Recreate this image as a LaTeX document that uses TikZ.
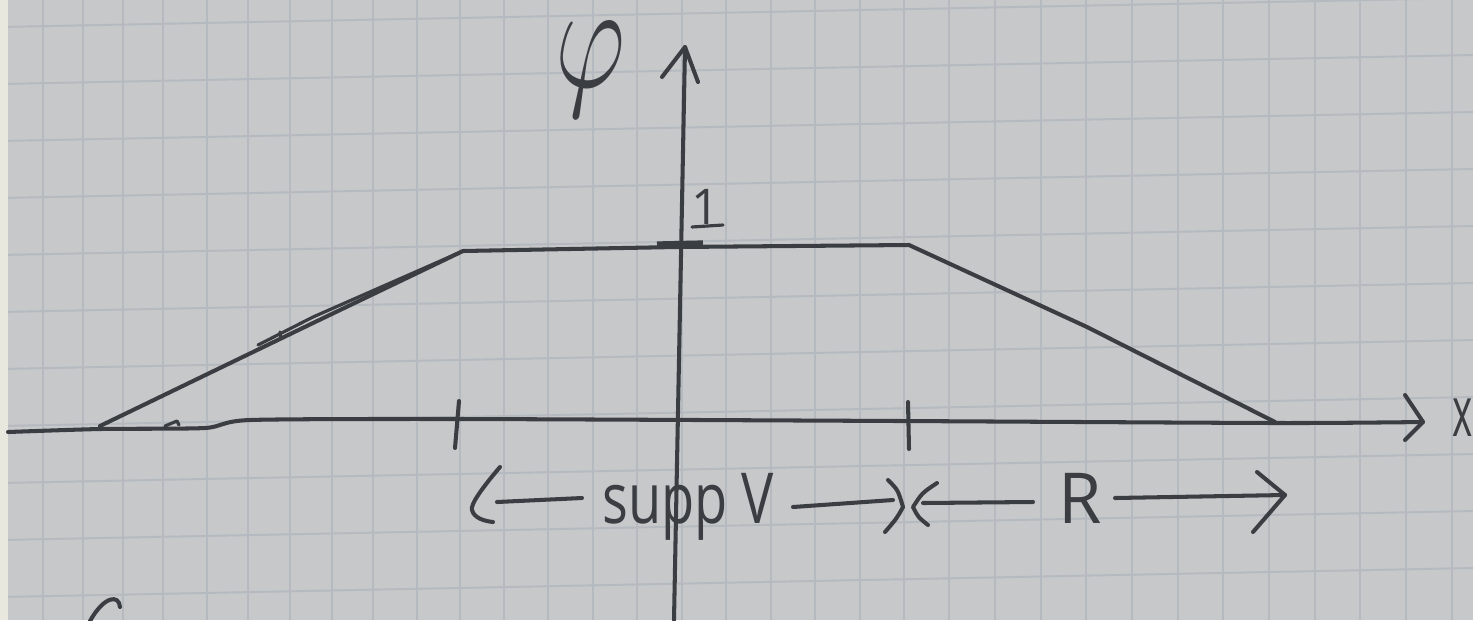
\documentclass[tikz,border=0pt]{standalone}
\usepackage{fontspec}
\setsansfont{Open Sans}
\usepackage{graphicx}
\definecolor{paper}{RGB}{198,200,201}
\definecolor{gridc}{RGB}{180,186,191}
\definecolor{ink}{RGB}{58,61,66}
\definecolor{edgec}{RGB}{232,232,222}
\begin{document}
\begin{tikzpicture}[x=0.02cm,y=-0.02cm,
  inkline/.style={draw=ink,line width=2.3pt,line cap=round,line join=round},
  thinink/.style={draw=ink,line width=1.8pt,line cap=round,line join=round},
  gridline/.style={draw=gridc,line width=1.1pt},
  lbl/.style={text=ink,font=\sffamily\fontsize{40}{40}\selectfont,inner sep=0pt}]
\useasboundingbox (0,0) rectangle (1473,620);
\clip (0,0) rectangle (1473,620);
% paper and grid
\fill[paper] (0,0) rectangle (1473,620);
\foreach \gx in {43,83,123,163,207,248,290,332,373,417,460,504,548,593,637,682,726,771,815,860,904,949,995,1041,1086,1132,1178,1223,1269,1315,1360,1406,1452}
  \draw[gridline] (\gx,0) -- (\gx,620);
\foreach \k in {0,...,11}
  \draw[gridline] (0,{27+57*\k}) -- (1473,{27+57*\k-29});
\fill[edgec] (0,0) rectangle (8,620);

% key points
\coordinate (xa0) at (8,432);
\coordinate (xa1) at (100,429);
\coordinate (xa2) at (205,428);
\coordinate (xa3) at (250,420);
\coordinate (xa4) at (460,419);
\coordinate (xa5) at (900,421);
\coordinate (xa6) at (1280,423);
\coordinate (xtip) at (1423,422);
\coordinate (xhu) at (1405,395);
\coordinate (xhl) at (1405,440);

\coordinate (ybot) at (674,620);
\coordinate (ytip) at (685,47);
\coordinate (yhl) at (662,77);
\coordinate (yhr) at (698,82);

\coordinate (s0) at (100,426);
\coordinate (s1) at (313,323);
\coordinate (p0) at (463,251);
\coordinate (p1) at (676,247);
\coordinate (p2) at (909,245);
\coordinate (r1) at (1087,327);
\coordinate (r2) at (1275,422);

\coordinate (d0) at (258,345);
\coordinate (d1) at (313,317);
\coordinate (d2) at (413,273);

% axes
\draw[inkline] plot[smooth,tension=0.4] coordinates {(xa0) (xa1) (xa2) (xa3) (xa4) (xa5) (xa6) (xtip)};
\draw[inkline] (xhu) -- (xtip) -- (xhl);
\draw[inkline] (ybot) -- (ytip);
\draw[inkline] (yhl) -- (ytip) -- (yhr);

% small spur on x axis
\coordinate (sp0) at (165,426);
\coordinate (sp1) at (177,421);
\coordinate (sp2) at (179,425);
\draw[thinink] (sp0) -- (sp1) -- (sp2);

% trapezoid
\draw[inkline] (s0) -- (s1) -- (p0) -- (p1) -- (p2) -- (r1) -- (r2);
\draw[thinink] (d0) -- (d1) -- (d2) -- (p0);
\coordinate (dt0) at (280,332);
\coordinate (dt1) at (281,338);
\draw[thinink] (dt0) -- (dt1);

% ticks on x axis
\coordinate (tl0) at (459,401);
\coordinate (tl1) at (455,448);
\coordinate (tr0) at (908,402);
\coordinate (tr1) at (909,449);
\draw[inkline] (tl0) -- (tl1);
\draw[inkline] (tr0) -- (tr1);

% mark at 1 on y axis
\coordinate (m0) at (657,244);
\coordinate (m1) at (703,243);
\draw[draw=ink,line width=3pt] (m0) -- (m1);
\coordinate (u0) at (692,227);
\coordinate (u1) at (723,225);
\draw[thinink] (u0) -- (u1);

% labels
\node[lbl] (phi) at (590,70) {\resizebox*{1.4cm}{1.9cm}{$\varphi$}};
\node[lbl,anchor=base,font=\sffamily\fontsize{28}{28}\selectfont] (one) at (706,224) {1};
\node[lbl,anchor=base east] (xl) at (1473,436) {\scalebox{0.55}[1]{x}};
\node[lbl,anchor=base] (supp) at (688,523) {\scalebox{0.77}[1]{supp V}};
\node[lbl,anchor=base] (rl) at (1080,523) {R};

% label arrows
\coordinate (a1h0) at (500,467);
\coordinate (a1h1) at (472,510);
\coordinate (a1h2) at (493,522);
\coordinate (a1s0) at (497,502);
\coordinate (a1s1) at (582,498);
\draw[inkline] (a1h0) .. controls (482,488) and (470,505) .. (a1h1) .. controls (474,518) and (484,521) .. (a1h2);
\draw[inkline] (a1s0) -- (a1s1);

\coordinate (a2s0) at (793,507);
\coordinate (a2s1) at (893,500);
\coordinate (a2h0) at (888,480);
\coordinate (a2h1) at (903,507);
\coordinate (a2h2) at (885,532);
\draw[inkline] (a2s0) -- (a2s1);
\draw[inkline] (a2h0) .. controls (898,490) .. (a2h1) .. controls (897,518) .. (a2h2);

\coordinate (a3h0) at (937,483);
\coordinate (a3h1) at (913,507);
\coordinate (a3h2) at (928,525);
\coordinate (a3s0) at (923,503);
\coordinate (a3s1) at (1033,502);
\draw[inkline] (a3h0) .. controls (922,493) .. (a3h1) .. controls (918,517) .. (a3h2);
\draw[inkline] (a3s0) -- (a3s1);

\coordinate (a4s0) at (1115,498);
\coordinate (a4s1) at (1285,495);
\coordinate (a4h0) at (1257,472);
\coordinate (a4h2) at (1253,532);
\draw[inkline] (a4s0) -- (a4s1);
\draw[inkline] (a4h0) -- (a4s1) -- (a4h2);

% start of a letter at the bottom edge
\coordinate (c0) at (120,607);
\coordinate (c1) at (90,621);
\draw[inkline] (c0) .. controls (119,594) and (104,596) .. (c1);
\end{tikzpicture}
\end{document}
